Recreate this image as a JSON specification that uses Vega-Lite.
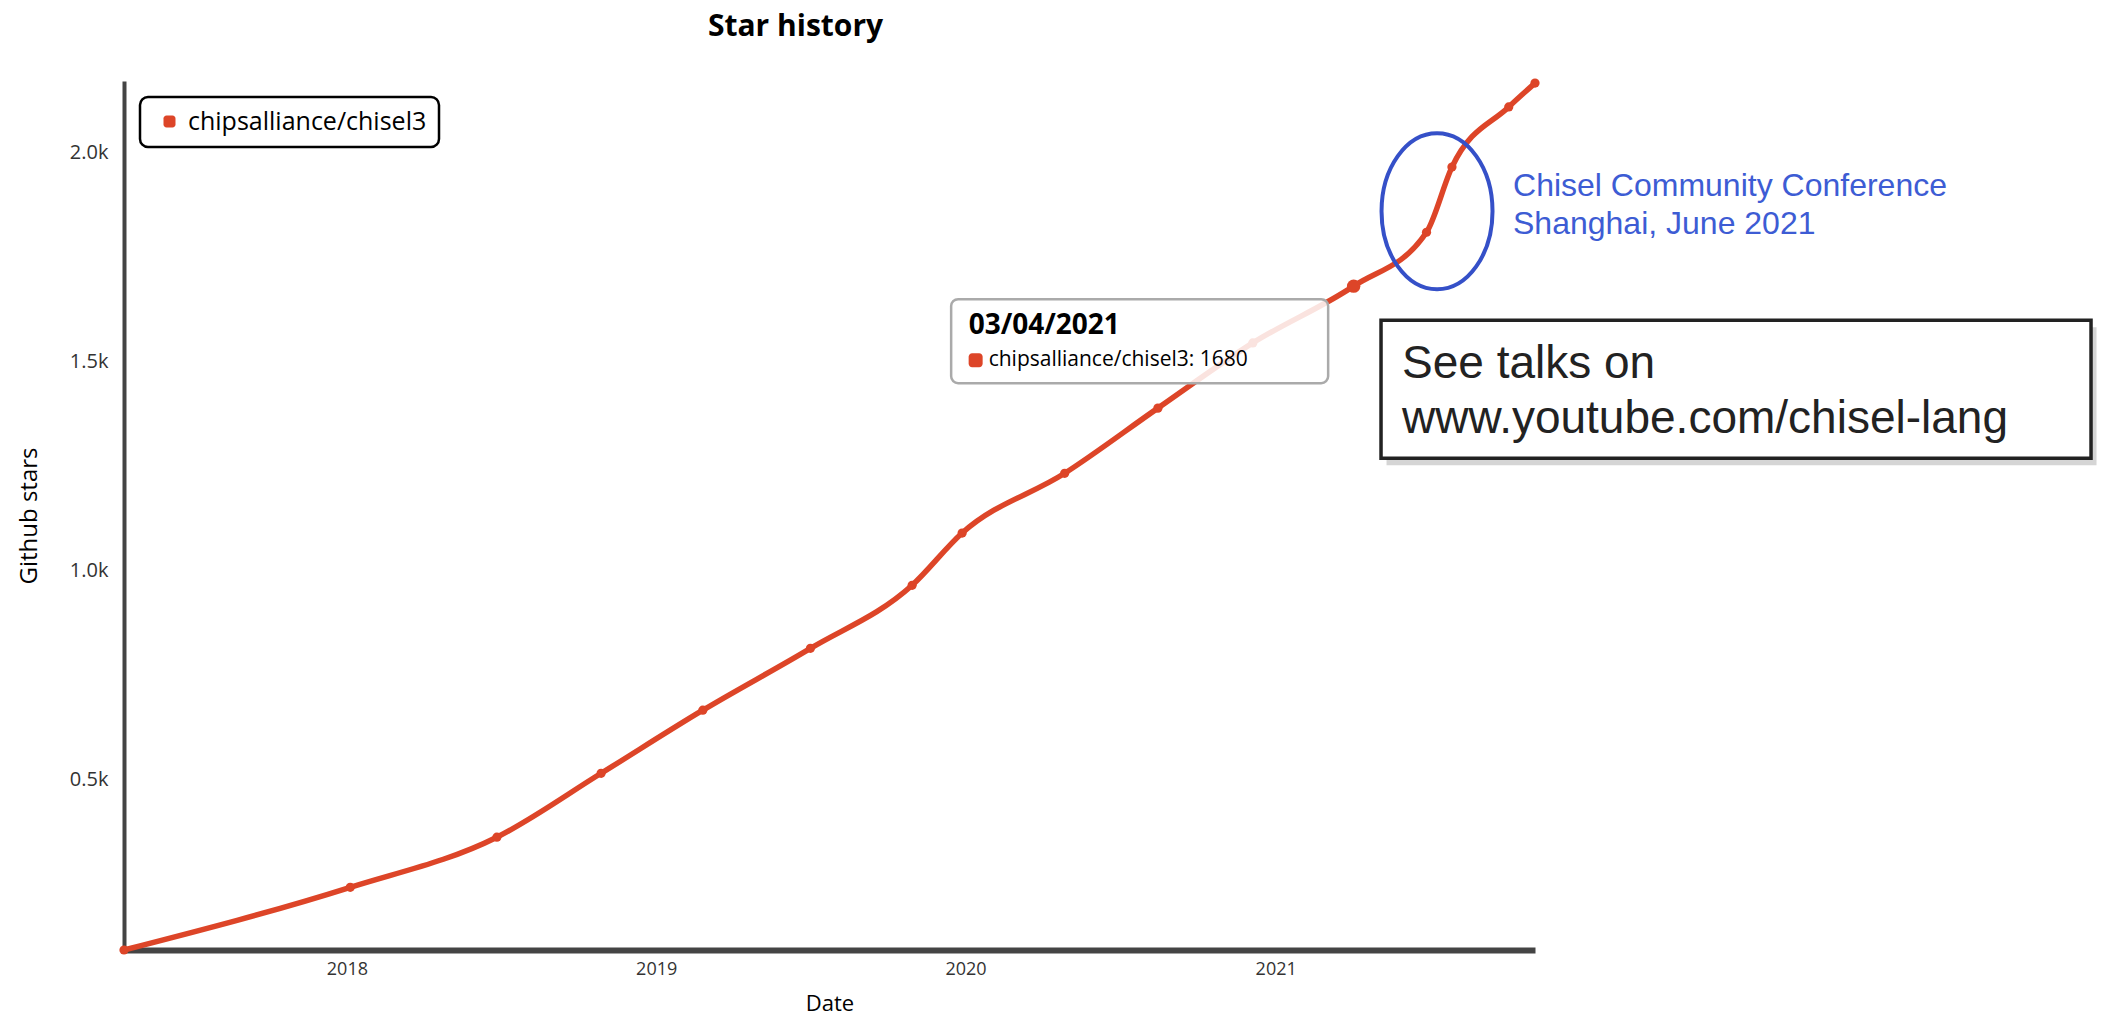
{
  "$schema": "https://vega.github.io/schema/vega-lite/v6.json",
  "width": 1411,
  "height": 869,
  "autosize": {"type": "none"},
  "padding": {"left": 124, "top": 81, "right": 571, "bottom": 72},
  "background": "white",
  "title": {"text": "Star history", "anchor": "middle", "frame": "group", "dx": -34, "offset": 30, "fontSize": 30, "font": "Open Sans", "fontWeight": "bold", "color": "#000"},
  "data": {
    "values": [
      {"date": "2017-04-13", "stars": 91, "repo": "chipsalliance/chisel3"},
      {"date": "2018-01-05", "stars": 241, "repo": "chipsalliance/chisel3"},
      {"date": "2018-06-27", "stars": 361, "repo": "chipsalliance/chisel3"},
      {"date": "2018-10-28", "stars": 514, "repo": "chipsalliance/chisel3"},
      {"date": "2019-02-25", "stars": 665, "repo": "chipsalliance/chisel3"},
      {"date": "2019-07-02", "stars": 813, "repo": "chipsalliance/chisel3"},
      {"date": "2019-10-30", "stars": 964, "repo": "chipsalliance/chisel3"},
      {"date": "2019-12-28", "stars": 1089, "repo": "chipsalliance/chisel3"},
      {"date": "2020-04-27", "stars": 1232, "repo": "chipsalliance/chisel3"},
      {"date": "2020-08-15", "stars": 1388, "repo": "chipsalliance/chisel3"},
      {"date": "2020-12-05", "stars": 1544, "repo": "chipsalliance/chisel3"},
      {"date": "2021-04-03", "stars": 1680, "repo": "chipsalliance/chisel3"},
      {"date": "2021-06-28", "stars": 1809, "repo": "chipsalliance/chisel3"},
      {"date": "2021-07-28", "stars": 1965, "repo": "chipsalliance/chisel3"},
      {"date": "2021-10-03", "stars": 2109, "repo": "chipsalliance/chisel3"},
      {"date": "2021-11-03", "stars": 2166, "repo": "chipsalliance/chisel3"}
    ]
  },
  "encoding": {
    "x": {
      "field": "date",
      "type": "temporal",
      "title": "Date",
      "axis": {"format": "%Y", "tickCount": {"interval": "year", "step": 1}, "labelFontSize": 18, "labelPadding": 10, "titleFontSize": 22, "titlePadding": 15, "domainWidth": 6}
    },
    "y": {
      "field": "stars",
      "type": "quantitative",
      "title": "Github stars",
      "scale": {"domain": [91, 2171], "nice": false, "zero": false},
      "axis": {"values": [500, 1000, 1500, 2000], "labelExpr": "format(datum.value / 1000, '.1f') + 'k'", "labelFontSize": 20, "labelPadding": 16, "titleFontSize": 24, "titlePadding": 28, "domainWidth": 4}
    }
  },
  "layer": [
    {
      "mark": {"type": "line", "interpolate": "monotone", "color": "#dd4528", "strokeWidth": 5.5, "strokeCap": "round"}
    },
    {
      "mark": {"type": "point", "filled": true, "size": 85, "opacity": 1},
      "encoding": {
        "color": {
          "field": "repo",
          "type": "nominal",
          "scale": {"range": ["#dd4528"]},
          "legend": {
            "title": null,
            "orient": "none",
            "legendX": 16,
            "legendY": 16,
            "symbolType": "M-1,-0.5 A0.5,0.5 0 0 1 -0.5,-1 L0.5,-1 A0.5,0.5 0 0 1 1,-0.5 L1,0.5 A0.5,0.5 0 0 1 0.5,1 L-0.5,1 A0.5,0.5 0 0 1 -1,0.5 Z",
            "symbolSize": 144,
            "symbolStrokeWidth": 0,
            "symbolOpacity": 1,
            "symbolOffset": 5,
            "labelOffset": 6,
            "labelFontSize": 25,
            "labelFont": "Open Sans",
            "labelColor": "#000",
            "labelLimit": 500,
            "labelExpr": "datum.label + '\u00a0\u00a0\u00a0\u00a0\u00a0\u00a0\u00a0\u00a0\u00a0\u00a0\u00a0\u00a0\u00a0\u00a0\u00a0\u00a0'",
            "padding": 12,
            "strokeColor": "#000",
            "cornerRadius": 8,
            "fillColor": "#ffffff"
          }
        }
      }
    },
    {
      "transform": [{"filter": "datum.stars == 1680"}],
      "mark": {"type": "point", "filled": true, "size": 180, "opacity": 1, "color": "#dd4528"}
    },
    {
      "transform": [{"filter": "datum.stars == 1680"}],
      "mark": {
        "type": "point",
        "shape": "M-0.963,-0.2228 L0.963,-0.2228 A0.037,0.037 0 0 1 1,-0.1858 L1,0.1858 A0.037,0.037 0 0 1 0.963,0.2228 L-0.963,0.2228 A0.037,0.037 0 0 1 -1,0.1858 L-1,-0.1858 A0.037,0.037 0 0 1 -0.963,-0.2228 Z",
        "size": 142129,
        "filled": true,
        "fill": "#ffffff",
        "fillOpacity": 0.85,
        "stroke": "#aaaaaa",
        "strokeWidth": 2.5,
        "opacity": 1,
        "xOffset": -214,
        "yOffset": 55
      }
    },
    {
      "transform": [{"filter": "datum.stars == 1680"}],
      "mark": {"type": "text", "align": "left", "baseline": "alphabetic", "dx": -385, "dy": 48, "fontSize": 28, "fontWeight": "bold", "font": "Open Sans", "color": "#000"},
      "encoding": {"text": {"field": "date", "type": "temporal", "timeUnit": "utcyearmonthdate", "format": "%d/%m/%Y"}}
    },
    {
      "transform": [{"filter": "datum.stars == 1680"}],
      "mark": {
        "type": "point",
        "shape": "M-1,-0.5 A0.5,0.5 0 0 1 -0.5,-1 L0.5,-1 A0.5,0.5 0 0 1 1,-0.5 L1,0.5 A0.5,0.5 0 0 1 0.5,1 L-0.5,1 A0.5,0.5 0 0 1 -1,0.5 Z",
        "size": 196,
        "filled": true,
        "opacity": 1,
        "color": "#dd4528",
        "xOffset": -378,
        "yOffset": 74
      }
    },
    {
      "transform": [{"filter": "datum.stars == 1680"}],
      "mark": {"type": "text", "align": "left", "baseline": "middle", "dx": -365, "dy": 74, "fontSize": 21, "font": "Open Sans", "color": "#000", "text": {"expr": "datum.repo + ': ' + datum.stars"}}
    },
    {
      "transform": [{"filter": "datum.stars == 1809"}],
      "mark": {
        "type": "point",
        "shape": "M-0.7115,0 A0.7115,1 0 1 1 0.7115,0 A0.7115,1 0 1 1 -0.7115,0 Z",
        "size": 24336,
        "filled": false,
        "stroke": "#3550c8",
        "strokeWidth": 4,
        "opacity": 1,
        "xOffset": 10.5,
        "yOffset": -21
      }
    },
    {
      "transform": [{"filter": "datum.stars == 1809"}],
      "mark": {"type": "text", "text": ["Chisel Community Conference", "Shanghai, June 2021"], "align": "left", "baseline": "alphabetic", "dx": 86.5, "dy": -36, "lineHeight": 38, "fontSize": 32, "font": "Liberation Sans", "color": "#3d5cd4"}
    },
    {
      "transform": [{"filter": "datum.stars == 1809"}],
      "mark": {
        "type": "point",
        "shape": "M-1,-0.1944 L1,-0.1944 L1,0.1944 L-1,0.1944 Z",
        "size": 504100,
        "filled": true,
        "fill": "#888888",
        "fillOpacity": 0.35,
        "strokeWidth": 0,
        "opacity": 1,
        "xOffset": 315,
        "yOffset": 164
      }
    },
    {
      "transform": [{"filter": "datum.stars == 1809"}],
      "mark": {
        "type": "point",
        "shape": "M-1,-0.1944 L1,-0.1944 L1,0.1944 L-1,0.1944 Z",
        "size": 504100,
        "filled": true,
        "fill": "#ffffff",
        "stroke": "#222222",
        "strokeWidth": 3.5,
        "opacity": 1,
        "xOffset": 309.5,
        "yOffset": 157
      }
    },
    {
      "transform": [{"filter": "datum.stars == 1809"}],
      "mark": {"type": "text", "text": ["See talks on", "www.youtube.com/chisel-lang"], "align": "left", "baseline": "alphabetic", "dx": -24.5, "dy": 146, "lineHeight": 55, "fontSize": 46, "font": "Liberation Sans", "color": "#222222"}
    }
  ],
  "config": {
    "view": {"stroke": null},
    "font": "Open Sans",
    "legend": {"strokeWidth": 2.5},
    "axis": {"grid": false, "ticks": false, "tickSize": 0, "domainColor": "#444444", "labelColor": "#333333", "titleColor": "#000000", "labelFont": "Open Sans", "titleFont": "Open Sans", "titleFontWeight": "normal"}
  }
}
